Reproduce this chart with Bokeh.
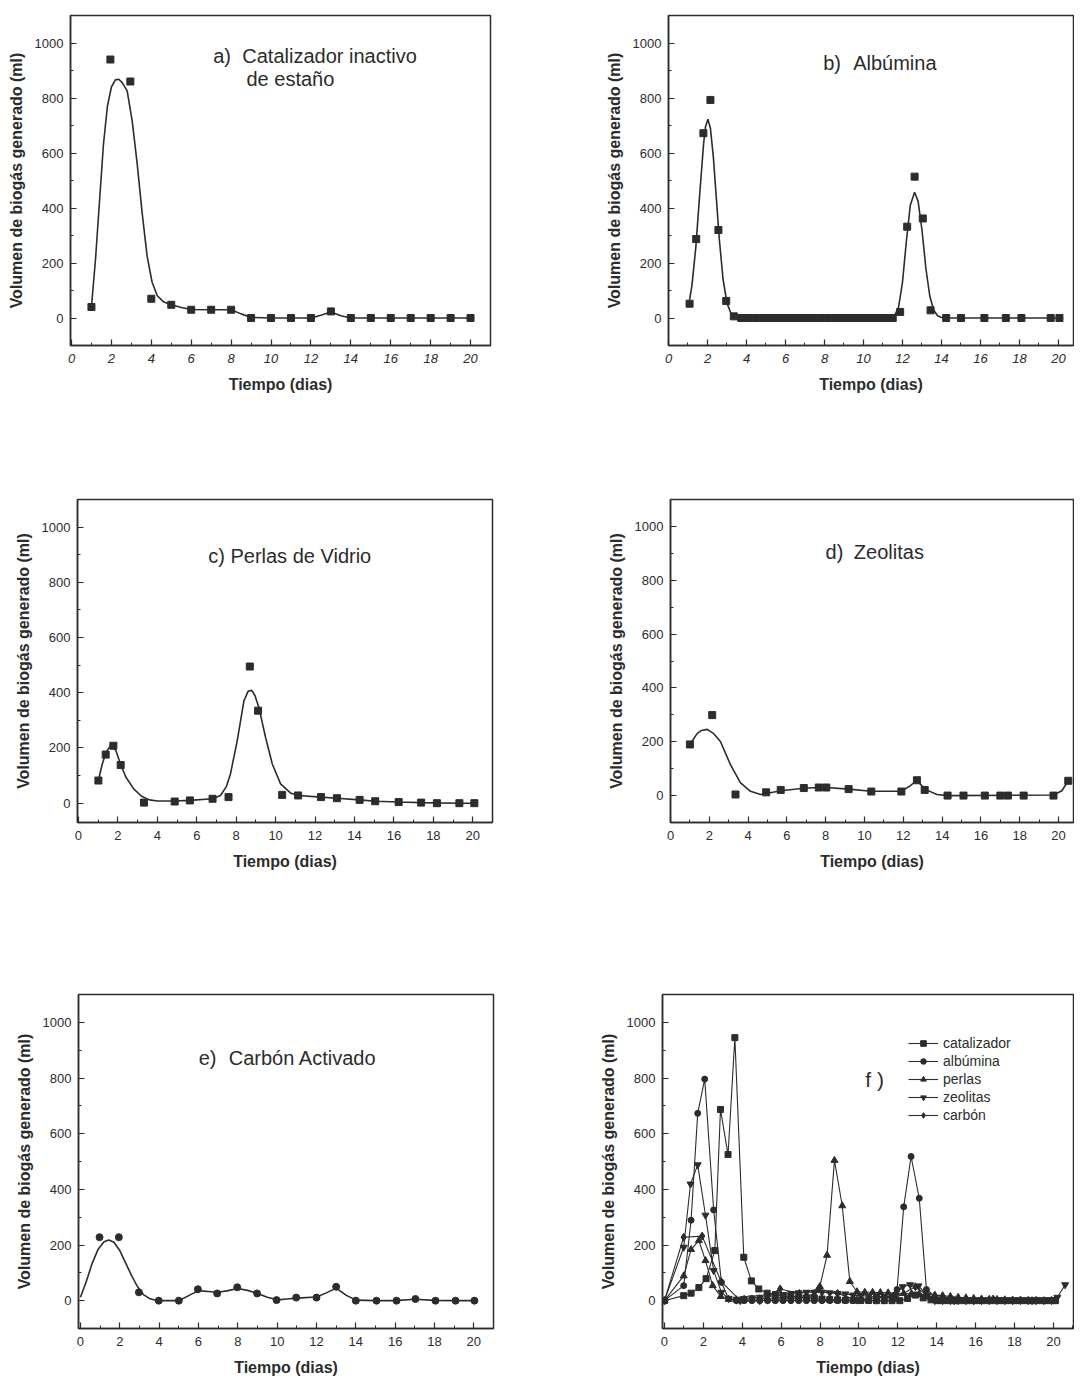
from bokeh.plotting import figure
from bokeh.layouts import column, row
from bokeh.models import Label, Legend, LegendItem, SingleIntervalTicker, Range1d
from bokeh.embed import file_html
from bokeh.resources import INLINE

# ---------------- data ----------------
# a) Catalizador inactivo de estaño
a_x = [1, 1.95, 2.95, 4, 5, 6, 7, 8, 9, 10, 11, 12, 13, 14, 15, 16, 17, 18, 19, 20]
a_y = [40, 940, 860, 70, 48, 30, 30, 30, 0, 0, 0, 0, 24, 0, 0, 0, 0, 0, 0, 0]
a_fit_x = [1.0, 1.2, 1.4, 1.6, 1.8, 2.0, 2.2, 2.37, 2.55, 2.79, 3.04, 3.29, 3.54, 3.79, 4.04, 4.3,
           4.63, 5.0, 5.5, 6.0, 7.0, 8.0, 8.5, 9.0, 10.0, 11.0, 12.0, 12.5, 13.0, 13.5, 14.0, 20.0]
a_fit_y = [40, 210, 420, 630, 770, 840, 866, 868, 855, 826, 718, 562, 382, 225, 130, 81,
           58, 48, 38, 31, 30, 30, 15, 2, 0, 0, 0, 10, 22, 8, 0, 0]

# b) Albúmina
b_x = [1.08, 1.42, 1.79, 2.15, 2.56, 2.96, 3.35,
       3.73, 4.10, 4.47, 4.84, 5.21, 5.58, 5.95, 6.32, 6.69, 7.06, 7.43, 7.80, 8.17, 8.54, 8.91,
       9.28, 9.65, 10.02, 10.39, 10.76, 11.13, 11.50,
       11.88, 12.24, 12.62, 13.04, 13.44, 14.24, 15.0, 16.2, 17.3, 18.1, 19.6, 20.05]
b_y = [52, 287, 672, 793, 320, 62, 6,
       0, 0, 0, 0, 0, 0, 0, 0, 0, 0, 0, 0, 0, 0, 0,
       0, 0, 0, 0, 0, 0, 0,
       22, 332, 514, 362, 28, 0, 0, 0, 0, 0, 0, 0]
b_fit_x = [1.08, 1.2, 1.4, 1.6, 1.8, 1.9, 2.02, 2.15, 2.3, 2.45, 2.6, 2.8, 3.0, 3.2, 3.4, 3.6,
           11.4, 11.6, 11.8, 12.0, 12.2, 12.4, 12.62, 12.8, 13.0, 13.2, 13.4, 13.6, 13.8, 14.0,
           14.24, 20.05]
b_fit_y = [66, 117, 256, 449, 634, 696, 723, 690, 586, 439, 291, 140, 54, 17, 4, 0,
           0, 10, 40, 130, 280, 410, 457, 425, 320, 180, 80, 28, 8, 2,
           0, 0]

# c) Perlas de Vidrio
c_x = [1.01, 1.38, 1.77, 2.14, 3.32, 4.88, 5.65, 6.8, 7.61, 8.69, 9.11, 10.33, 11.14, 12.3,
       13.11, 14.26, 15.05, 16.24, 17.38, 18.18, 19.32, 20.08]
c_y = [82, 176, 208, 138, 2, 6, 10, 16, 22, 495, 335, 30, 28, 22,
       18, 12, 7, 4, 2, 0, 0, 0]
c_fit_x = [1.01, 1.2, 1.4, 1.6, 1.72, 1.9, 2.14, 2.4, 2.8, 3.2, 3.6, 4.0, 4.88, 5.65, 6.8,
           7.2, 7.5, 7.71, 8.05, 8.39, 8.6, 8.78, 8.95, 9.15, 9.49, 9.83, 10.25, 10.75, 11.14,
           12.3, 13.11, 14.26, 15.05, 16.24, 17.38, 18.18, 19.32, 20.08]
c_fit_y = [82, 140, 185, 205, 208, 190, 140, 95, 52, 25, 12, 8, 8, 10, 16,
           28, 60, 106, 226, 370, 405, 409, 390, 347, 238, 142, 70, 37, 28,
           22, 18, 12, 7, 4, 2, 1, 0, 0]

# d) Zeolitas
d_x = [1.0, 2.15, 3.35, 4.93, 5.68, 6.87, 7.64, 8.03, 9.18, 10.35, 11.9, 12.7, 13.1, 14.28,
       15.1, 16.2, 17.0, 17.39, 18.2, 19.74, 20.5]
d_y = [190, 299, 4, 12, 21, 28, 30, 30, 24, 15, 15, 57, 21, 0,
       0, 0, 0, 0, 0, 0, 55]
d_fit_x = [1.0, 1.37, 1.6, 1.89, 2.23, 2.58, 3.09, 3.6, 4.12, 4.64, 4.93, 5.68, 6.87, 7.64,
           8.03, 9.18, 10.35, 11.9, 12.35, 12.7, 13.1, 13.73, 14.28, 19.74, 20.17, 20.5]
d_fit_y = [190, 230, 242, 246, 230, 200, 115, 48, 16, 4, 8, 18, 27, 30,
           30, 24, 16, 16, 36, 57, 24, 4, 0, 2, 18, 55]

# e) Carbón Activado
e_x = [0.97, 1.95, 2.97, 3.98, 5.0, 5.97, 6.95, 7.97, 8.98, 9.97, 10.97, 12.0, 13.0, 14.0,
       15.05, 16.07, 17.03, 18.05, 19.07, 20.03]
e_y = [228, 228, 30, 0, 0, 41, 26, 48, 26, 2, 11, 11, 50, 0,
       0, 0, 6, 0, 0, 0]
e_fit_x = [0.0, 0.3, 0.6, 0.9, 1.2, 1.44, 1.7, 2.0, 2.3, 2.6, 2.9, 3.2, 3.5, 3.9, 5.0, 5.5,
           6.0, 6.5, 7.0, 7.5, 8.0, 8.5, 9.0, 9.5, 10.0, 10.5, 11.0, 12.0, 12.5, 13.0, 13.5,
           14.0, 15.0, 16.0, 17.0, 18.0, 19.0, 20.0]
e_fit_y = [12, 70, 135, 185, 212, 218, 210, 180, 135, 90, 50, 22, 8, 0, 0, 18,
           36, 33, 30, 36, 44, 37, 26, 12, 3, 6, 9, 13, 28, 45, 20,
           2, 0, 0, 5, 1, 0, 0]

# f) all series together
f_cat_x = [0, 0.99, 1.37, 1.77, 2.14, 2.59, 2.88, 3.27, 3.62, 4.08, 4.47, 4.85, 5.28,
           5.7, 6.1, 6.5, 6.9, 7.3, 7.7, 8.1, 8.5, 8.9, 9.3, 9.7, 10.1, 10.5, 10.9, 11.3, 11.7,
           12.1, 12.5, 12.9, 13.3, 13.7, 14.1, 14.5, 14.9, 15.3, 15.7, 16.1, 16.5, 16.9, 17.3,
           17.7, 18.1, 18.5, 18.9, 19.3, 19.7, 20.1]
f_cat_y = [0, 18, 27, 47, 79, 180, 687, 525, 945, 156, 71, 42, 27,
           22, 18, 15, 12, 10, 8, 6, 4, 3, 2, 2, 1, 1, 0, 0, 0,
           0, 8, 20, 10, 3, 0, 0, 0, 0, 0, 0, 0, 0, 0,
           0, 0, 0, 0, 0, 0, 0]
f_alb_x = [0, 0.99, 1.37, 1.71, 2.07, 2.53, 2.93, 3.3,
           3.7, 4.1, 4.5, 4.9, 5.3, 5.7, 6.1, 6.5, 6.9, 7.3, 7.7, 8.1, 8.5, 8.9, 9.3, 9.7, 10.1,
           10.5, 10.9, 11.3,
           11.96, 12.3, 12.68, 13.1, 13.47,
           14.2, 15.0, 16.2, 17.3, 18.1, 19.6, 20.05]
f_alb_y = [0, 54, 289, 673, 796, 326, 66, 6,
           0, 0, 0, 0, 0, 0, 0, 0, 0, 0, 0, 0, 0, 0, 0, 0, 0,
           0, 0, 0,
           40, 337, 518, 368, 40,
           0, 0, 0, 0, 0, 0, 0]
f_per_x = [0, 0.99, 1.37, 1.77, 2.11, 2.48, 2.9,
           3.3, 3.7, 4.1, 4.5, 4.9, 5.3, 5.7, 6.1, 6.5, 6.9, 7.3, 7.7,
           7.99, 8.36, 8.74, 9.14, 9.53,
           9.9, 10.3, 10.7, 11.1, 11.5, 11.9, 12.3, 12.7, 13.1, 13.5, 13.9, 14.3, 14.7, 15.1,
           15.5, 15.9, 16.3, 16.7, 17.1, 17.5, 17.9, 18.3, 18.7, 19.1, 19.5, 19.9]
f_per_y = [0, 89, 184, 216, 144, 54, 15,
           5, 3, 5, 6, 7, 8, 10, 12, 14, 16, 18, 22,
           51, 163, 504, 341, 69,
           32, 30, 30, 29, 28, 27, 26, 25, 24, 22, 20, 18, 15, 12,
           10, 8, 6, 5, 4, 3, 2, 2, 1, 1, 0, 0]
f_zeo_x = [0, 0.99, 1.34, 1.71, 2.11, 2.53, 2.93,
           3.3, 3.7, 4.1, 4.5, 4.9, 5.3, 5.7, 6.1, 6.5, 6.9, 7.3, 7.7, 8.1, 8.5, 8.9, 9.3,
           9.7, 10.1, 10.5, 10.9, 11.3, 11.7,
           12.25, 12.63, 13.06,
           13.5, 13.9, 14.3, 14.7, 15.1, 15.5, 15.9, 16.3, 16.7, 17.1, 17.5, 17.9, 18.3, 18.7,
           19.1, 19.5, 19.9,
           20.2, 20.6]
f_zeo_y = [0, 192, 419, 488, 307, 108, 30,
           8, 5, 8, 10, 12, 15, 18, 22, 26, 28, 30, 30, 30, 28, 26, 24,
           20, 18, 16, 15, 15, 15,
           50, 57, 53,
           20, 5, 0, 0, 0, 0, 0, 0, 0, 0, 0, 0, 0, 0,
           0, 0, 2,
           12, 57]
f_car_x = [0, 0.99, 1.94, 2.91, 3.9, 4.9, 5.95, 6.93, 7.92, 8.9, 9.9, 10.9, 11.9, 12.9,
           13.9, 14.9, 15.9, 16.9, 17.9, 18.9, 19.9]
f_car_y = [0, 228, 232, 69, 0, 0, 42, 26, 42, 26, 2, 11, 11, 50,
           0, 0, 0, 6, 0, 0, 0]
f_names = ["catalizador", "albúmina", "perlas", "zeolitas", "carbón"]

Y_LABEL = "Volumen de biogás generado (ml)"
X_LABEL = "Tiempo (dias)"

INK = "#2c2c2c"
FONT = "Liberation Sans"


def make_panel(w, h, left, right, top, bottom, xr, yr, italic_x=False):
    p = figure(width=w, height=h, x_range=Range1d(*xr), y_range=Range1d(*yr),
               output_backend="svg", toolbar_location=None, tools="",
               min_border_left=left, min_border_right=right,
               min_border_top=top, min_border_bottom=bottom)
    p.grid.visible = False
    p.outline_line_color = INK
    p.outline_line_width = 1.5
    p.outline_line_alpha = 1.0
    p.background_fill_color = "white"
    p.border_fill_color = "white"
    p.xaxis.ticker = SingleIntervalTicker(interval=2, num_minor_ticks=2)
    p.yaxis.ticker = SingleIntervalTicker(interval=200, num_minor_ticks=2)
    for ax in (p.xaxis[0], p.yaxis[0]):
        ax.axis_line_color = INK
        ax.axis_line_width = 1.5
        ax.major_tick_line_color = INK
        ax.minor_tick_line_color = INK
        ax.major_tick_line_width = 1.2
        ax.minor_tick_line_width = 1.0
        ax.major_tick_in = 6
        ax.major_tick_out = 0
        ax.minor_tick_in = 3
        ax.minor_tick_out = 0
        ax.major_label_text_font = FONT
        ax.major_label_text_font_size = "13px"
        ax.major_label_text_color = INK
        ax.axis_label_text_font = FONT
        ax.axis_label_text_font_size = "16px"
        ax.axis_label_text_font_style = "bold"
        ax.axis_label_text_color = INK
    p.xaxis.axis_label = X_LABEL
    p.yaxis.axis_label = Y_LABEL
    p.xaxis.major_label_standoff = 8
    p.yaxis.major_label_standoff = 7
    p.xaxis.axis_label_standoff = 10
    p.yaxis.axis_label_standoff = 7
    if italic_x:
        p.xaxis.major_label_text_font_style = "italic"
    return p


def add_text(p, x, y, text, size="20px"):
    p.add_layout(Label(x=x, y=y, text=text, text_font=FONT, text_font_size=size,
                       text_color=INK, text_baseline="middle", text_align="left"))


def single(p, fx, fy, px, py, marker, size):
    p.line(fx, fy, line_color=INK, line_width=1.6)
    p.scatter(px, py, marker=marker, size=size, fill_color=INK, line_color=INK)


# ---------------- panels ----------------
pa = make_panel(556, 470, 70, 66, 13, 123, (-0.05, 21.0), (-100, 1100), italic_x=True)
single(pa, a_fit_x, a_fit_y, a_x, a_y, "square", 7)
add_text(pa, 7.1, 952, "a)")
add_text(pa, 8.56, 952, "Catalizador inactivo")
add_text(pa, 8.77, 868, "de estaño")

pb = make_panel(518, 470, 112, 1, 15, 125, (0.0, 20.77), (-100, 1100), italic_x=True)
single(pb, b_fit_x, b_fit_y, b_x, b_y, "square", 7)
add_text(pb, 7.93, 928, "b)")
add_text(pb, 9.47, 928, "Albúmina")

pc = make_panel(556, 495, 77, 64, 28, 143, (-0.05, 21.0), (-70, 1100))
single(pc, c_fit_x, c_fit_y, c_x, c_y, "square", 7)
add_text(pc, 6.58, 894, "c) Perlas de Vidrio")

pd = make_panel(518, 495, 114, 1, 29, 135, (0.0, 20.77), (-100, 1100))
single(pd, d_fit_x, d_fit_y, d_x, d_y, "square", 7)
add_text(pd, 7.99, 905, "d)")
add_text(pd, 9.45, 905, "Zeolitas")

pe = make_panel(556, 420, 78, 63, 28, 56, (-0.1, 21.0), (-100, 1100))
single(pe, e_fit_x, e_fit_y, e_x, e_y, "circle", 7)
add_text(pe, 6.01, 872, "e)")
add_text(pe, 7.54, 872, "Carbón Activado")

pf = make_panel(518, 420, 106, 1, 29, 57, (-0.1, 21.03), (-100, 1100))
f_series = [(f_cat_x, f_cat_y, "square", 6),
            (f_alb_x, f_alb_y, "circle", 6),
            (f_per_x, f_per_y, "triangle", 7),
            (f_zeo_x, f_zeo_y, "inverted_triangle", 7),
            (f_car_x, f_car_y, "diamond", 8)]
items = []
for name, (sx, sy, mk, sz) in zip(f_names, f_series):
    lr = pf.line(sx, sy, line_color=INK, line_width=1.1)
    sr = pf.scatter(sx, sy, marker=mk, size=sz, fill_color=INK, line_color=INK)
    items.append(LegendItem(label=name, renderers=[lr, sr]))
legend = Legend(items=items, location=(246, 205), padding=0, spacing=2, margin=0,
                glyph_width=30, glyph_height=14, label_height=14, label_standoff=5,
                label_text_font=FONT, label_text_font_size="14px", label_text_color=INK,
                background_fill_alpha=0, border_line_alpha=0)
pf.add_layout(legend)
add_text(pf, 10.33, 793, "f )", size="21px")

layout = column(row(pa, pb), row(pc, pd), row(pe, pf))

open("out.html", "w").write(file_html(layout, INLINE))
